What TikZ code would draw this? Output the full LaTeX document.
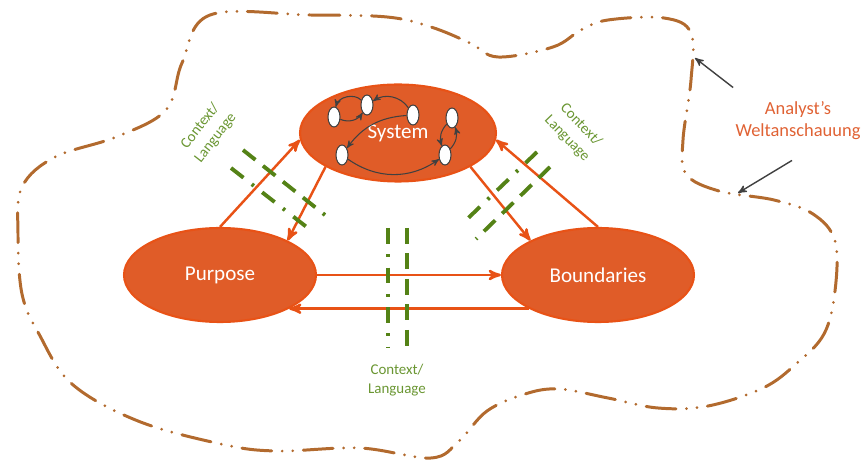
\documentclass[tikz,border=0pt]{standalone}
\usepackage{fontspec}
\setmainfont{Carlito}
\usepackage{tikz}
\usetikzlibrary{shapes, arrows, automata, positioning}
\definecolor{sysorange}{RGB}{224,92,40}
\definecolor{sysedge}{RGB}{232,82,22}
\definecolor{ctxgreen}{RGB}{84,130,22}
\definecolor{ctxtext}{RGB}{106,150,50}
\definecolor{blobbrown}{RGB}{178,106,46}
\definecolor{annot}{RGB}{224,98,52}

\begin{document}
\begin{tikzpicture}[x=0.02cm,y=-0.02cm,->,>=stealth',semithick]
        \tikzstyle{concept}=[ellipse,fill=sysorange,draw=sysedge,line width=1.2pt,text=white,
            inner sep=0pt,minimum width=3.84cm,minimum height=1.88cm,font=\fontsize{12}{14}\selectfont]
        \tikzstyle{every state}=[ellipse,fill=white,draw=black!75,minimum width=0.24cm,
            minimum height=0.4cm,inner sep=0pt,line width=0.6pt]
        \tikzstyle{link}=[draw=sysedge,line width=1.4pt]
        \tikzstyle{inner}=[draw=black!75,line width=0.6pt]
        \tikzstyle{ctxdot}=[-,draw=ctxgreen,line width=2.2pt,dash pattern=on 9pt off 6pt on 1.5pt off 6pt]
        \tikzstyle{ctxdash}=[-,draw=ctxgreen,line width=2.2pt,dash pattern=on 9pt off 5.5pt]
        \tikzstyle{ctxlabel}=[text=ctxtext,align=center,font=\fontsize{8.5}{11}\selectfont]
        \tikzstyle{blob}=[-,draw=blobbrown,line width=1.7pt,line cap=round,
            dash pattern=on 17pt off 6pt on 0pt off 6pt on 0pt off 6pt]
        \tikzstyle{pointer}=[draw=black!75,line width=0.8pt]
        \useasboundingbox (0,0) rectangle (866,462);

        % world view outline
        \draw[blob] plot[smooth cycle,tension=0.6] coordinates {
            (210,15) (310,15) (387,17) (431,27) (470,43) (498,57) (553,47) (581,30)
            (608,20) (664,18) (691,33) (691,80) (683,140) (686,174) (719,191) (774,200)
            (813,214) (835,241) (835,291) (824,334) (796,364) (763,388) (708,406)
            (658,408) (608,398) (559,389) (525,394) (487,411) (459,441) (431,458)
            (360,448) (276,451) (221,444) (138,421) (72,384) (39,334) (22,294)
            (18,234) (22,187) (55,157) (116,137) (166,110) (182,63)};

        \node[concept,minimum width=3.92cm,minimum height=1.94cm](S) at (398,133){System};
        \node[concept](P) at (220,275){Purpose};
        \node[concept](B) at (598,275){Boundaries};

        % the little graph inside System
        \node[state](s1) at (334,117){};
        \node[state](s2) at (367,105){};
        \node[state](s3) at (413,115){};
        \node[state](s4) at (342,155){};
        \node[state](s5) at (452,118){};
        \node[state](s6) at (445,155){};
        \draw[inner] (s2) to[bend right=60] (s1);
        \draw[inner] (s1) to[bend right=40] (s2);
        \draw[inner] (s3) to[bend right=45] (s2);
        \draw[inner] (s3) to[bend right=25] (s4);
        \draw[inner] (s4) to[bend right=35] (s6);
        \draw[inner] (s6) to[bend right=30] (s5);
        \draw[inner] (s5) to[bend right=30] (s6);

        % relations
        \draw[link] (P.north) -- (S.184);
        \draw[link] (S.205) -- (P.27);
        \draw[link] (S.-25) -- (B.153);
        \draw[link] (B.north) -- (S.-4);
        \draw[link] (P.east) -- (B.west);
        \draw[link] (B.206) -- (P.-26);

        % context / language cuts
        \draw[ctxdot] (231,168) -- (313,232);
        \draw[ctxdash] (243,150) -- (325,215);
        \draw[ctxdot] (537,152) -- (461,225);
        \draw[ctxdash] (550,167) -- (476,239);
        \draw[ctxdot] (388,228) -- (388,348);
        \draw[ctxdash] (407,228) -- (407,348);
        \node[ctxlabel,rotate=52](cl) at (208,132){Context/\\Language};
        \node[ctxlabel,rotate=-46](cr) at (574,132){Context/\\Language};
        \node[ctxlabel](cb) at (397,380){Context/\\Language};

        \node[text=annot,align=center,font=\fontsize{10.5}{12.5}\selectfont](an) at (798,121){Analyst’s\\Weltanschauung};
        \coordinate (w1) at (695,58);
        \coordinate (w2) at (738,193);
        \draw[pointer] ([shift={(4,-8)}]an.north west) -- (w1);
        \draw[pointer] ([shift={(-6,14)}]an.south) -- (w2);
     \end{tikzpicture}
\end{document}
